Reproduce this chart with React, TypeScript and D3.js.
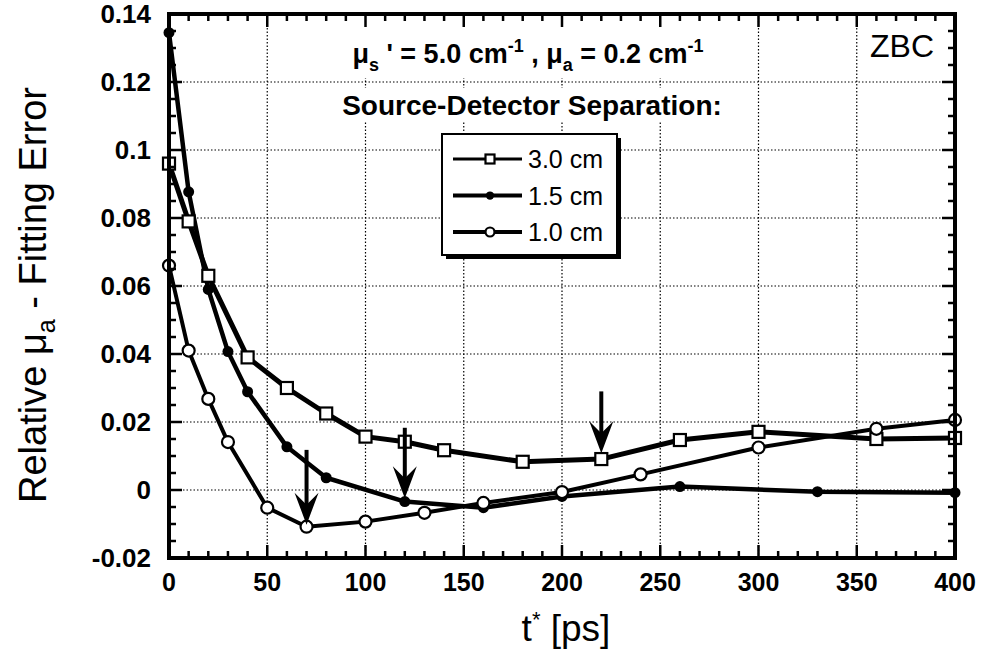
import React from 'react';
import * as d3 from 'd3';

// separation 3.0 cm (open squares)
const t30 = [0, 10, 20, 40, 60, 80, 100, 120, 140, 180, 220, 260, 300, 360, 400];
const err30 = [0.096, 0.079, 0.063, 0.039, 0.030, 0.0225, 0.0157, 0.0142, 0.0117, 0.0083, 0.0091, 0.0147, 0.0171, 0.015, 0.0153];
// separation 1.5 cm (filled dots)
const t15 = [0, 10, 20, 30, 40, 60, 80, 120, 160, 200, 260, 330, 400];
const err15 = [0.1345, 0.0877, 0.059, 0.0407, 0.0289, 0.0127, 0.0036, -0.0034, -0.0052, -0.0019, 0.001, -0.0005, -0.0008];
// separation 1.0 cm (open circles)
const t10 = [0, 10, 20, 30, 50, 70, 100, 130, 160, 200, 240, 300, 360, 400];
const err10 = [0.066, 0.041, 0.0268, 0.0141, -0.0052, -0.0108, -0.0093, -0.0067, -0.0038, -0.0006, 0.0046, 0.0125, 0.018, 0.0206];

// arrows marking the chosen t*
const arrowT = [70, 120, 220];
const arrowFrom = [0.0118, 0.0183, 0.029];
const arrowTo = [-0.0102, -0.0024, 0.0108];

const xTicks = [0, 50, 100, 150, 200, 250, 300, 350, 400];
const xTickLabels = ['0', '50', '100', '150', '200', '250', '300', '350', '400'];
const yTicks = [-0.02, 0, 0.02, 0.04, 0.06, 0.08, 0.1, 0.12, 0.14];
const yTickLabels = ['-0.02', '0', '0.02', '0.04', '0.06', '0.08', '0.1', '0.12', '0.14'];

const legendLabels = ['3.0 cm', '1.5 cm', '1.0 cm'];
const legendMarkers = ['square', 'dot', 'circle'];

const FONT = 'Liberation Sans, Arial, Helvetica, sans-serif';

export default function App() {
  const W = 984, H = 654;
  const x = d3.scaleLinear().domain([0, 400]).range([169, 955]);
  const y = d3.scaleLinear().domain([-0.02, 0.14]).range([558, 14]);

  const line = d3.line<[number, number]>()
    .x(d => x(d[0]))
    .y(d => y(d[1]));

  const pts = (ts: number[], vs: number[]) => ts.map((t, i) => [t, vs[i]] as [number, number]);
  const s30 = pts(t30, err30);
  const s15 = pts(t15, err15);
  const s10 = pts(t10, err10);

  const xMinor = d3.range(0, 401, 10);
  const yMinor = d3.range(-0.02, 0.1401, 0.005);

  const [x0, x1] = x.range();
  const [y0, y1] = y.range();

  const marker = (kind: string, cx: number, cy: number, k: string, size = 1) => {
    if (kind === 'square') {
      const s = 12 * size;
      return <rect key={k} x={cx - s / 2} y={cy - s / 2} width={s} height={s} fill="#fff" stroke="#000" strokeWidth={2.2} />;
    }
    if (kind === 'dot') {
      return <circle key={k} cx={cx} cy={cy} r={5.5 * size} fill="#000" />;
    }
    return <circle key={k} cx={cx} cy={cy} r={6 * size} fill="#fff" stroke="#000" strokeWidth={2.2} />;
  };

  return (
    <div style={{ position: 'absolute', left: 0, top: 0 }}>
      <svg width={W} height={H} style={{ display: 'block', background: '#fff' }}>
        {/* grid */}
        <g stroke="#000" strokeWidth={1.2} strokeDasharray="1.5,2">
          {xTicks.slice(1, -1).map(t => (
            <line key={'gx' + t} x1={x(t)} x2={x(t)} y1={y1} y2={y0} />
          ))}
          {yTicks.slice(1, -1).map(v => (
            <line key={'gy' + v} x1={x0} x2={x1} y1={y(v)} y2={y(v)} />
          ))}
        </g>

        {/* white backgrounds behind annotations */}
        <rect x={340} y={16} width={382} height={62} fill="#fff" />
        <rect x={336} y={88} width={392} height={34} fill="#fff" />

        {/* title texts */}
        <text x={528} y={63} textAnchor="middle" fontFamily={FONT} fontWeight="bold" fontSize={27}>
          <tspan>μ</tspan>
          <tspan dy={8} fontSize={18}>s</tspan>
          <tspan dy={-8}> ' = 5.0 cm</tspan>
          <tspan dy={-11} fontSize={18}>-1</tspan>
          <tspan dy={11}> , μ</tspan>
          <tspan dy={8} fontSize={18}>a</tspan>
          <tspan dy={-8}> = 0.2 cm</tspan>
          <tspan dy={-11} fontSize={18}>-1</tspan>
        </text>
        <text x={532} y={115} textAnchor="middle" fontFamily={FONT} fontWeight="bold" fontSize={28}>
          Source-Detector Separation:
        </text>
        <text x={934} y={57} textAnchor="end" fontFamily={FONT} fontSize={32}>ZBC</text>

        {/* series lines */}
        <g fill="none" stroke="#000" strokeLinejoin="round">
          <path d={line(s30) || ''} strokeWidth={5} />
          <path d={line(s15) || ''} strokeWidth={4.5} />
          <path d={line(s10) || ''} strokeWidth={4} />
        </g>
        {s30.map((d, i) => marker('square', x(d[0]), y(d[1]), 'sq' + i))}
        {s15.map((d, i) => marker('dot', x(d[0]), y(d[1]), 'dt' + i))}
        {s10.map((d, i) => marker('circle', x(d[0]), y(d[1]), 'ci' + i))}

        {/* arrows */}
        {arrowT.map((t, i) => {
          const ax = x(t);
          const top = y(arrowFrom[i]);
          const tip = y(arrowTo[i]);
          return (
            <g key={'ar' + i}>
              <line x1={ax} x2={ax} y1={top} y2={tip - 14} stroke="#000" strokeWidth={4} />
              <path d={`M${ax},${tip} L${ax - 12},${tip - 32} L${ax},${tip - 20} L${ax + 12},${tip - 32} Z`} fill="#000" />
            </g>
          );
        })}

        {/* frame and ticks */}
        <rect x={x0} y={y1} width={x1 - x0} height={y0 - y1} fill="none" stroke="#000" strokeWidth={4} />
        <g stroke="#000" strokeWidth={2.5}>
          {xMinor.map(t => {
            const len = t % 50 === 0 ? 13 : 7;
            return (
              <g key={'tx' + t}>
                <line x1={x(t)} x2={x(t)} y1={y0} y2={y0 - len} />
                <line x1={x(t)} x2={x(t)} y1={y1} y2={y1 + len} />
              </g>
            );
          })}
          {yMinor.map((v, i) => {
            const len = i % 4 === 0 ? 13 : 7;
            return (
              <g key={'ty' + i}>
                <line x1={x0} x2={x0 + len} y1={y(v)} y2={y(v)} />
                <line x1={x1} x2={x1 - len} y1={y(v)} y2={y(v)} />
              </g>
            );
          })}
        </g>

        {/* tick labels */}
        {xTicks.map((t, i) => (
          <text key={'xl' + t} x={x(t)} y={591} textAnchor="middle" fontFamily={FONT} fontWeight="bold" fontSize={25}>
            {xTickLabels[i]}
          </text>
        ))}
        {yTicks.map((v, i) => (
          <text key={'yl' + v} x={151} y={y(v) + 9} textAnchor="end" fontFamily={FONT} fontWeight="bold" fontSize={26}>
            {yTickLabels[i]}
          </text>
        ))}

        {/* axis titles */}
        <text transform="translate(46,295) rotate(-90)" textAnchor="middle" fontFamily={FONT} fontSize={38}>
          <tspan>Relative μ</tspan>
          <tspan dy={9} fontSize={25}>a</tspan>
          <tspan dy={-9}> - Fitting Error</tspan>
        </text>
        <text x={566} y={641} textAnchor="middle" fontFamily={FONT} fontSize={37}>
          <tspan>t</tspan>
          <tspan dy={-14} fontSize={22}>*</tspan>
          <tspan dy={14}> [ps]</tspan>
        </text>

        {/* legend */}
        <rect x={446} y={138} width={175} height={121} fill="#000" />
        <rect x={442} y={134} width={175} height={121} fill="#fff" stroke="#000" strokeWidth={2} />
        {legendLabels.map((lab, i) => {
          const ly = 159 + i * 36.5;
          return (
            <g key={'lg' + i}>
              <line x1={453} x2={522} y1={ly} y2={ly} stroke="#000" strokeWidth={i === 0 ? 3 : 4} />
              {marker(legendMarkers[i], 490, ly, 'lm' + i, 0.75)}
              <text x={528} y={ly + 9} fontFamily={FONT} fontSize={25}>{lab}</text>
            </g>
          );
        })}
      </svg>
    </div>
  );
}
